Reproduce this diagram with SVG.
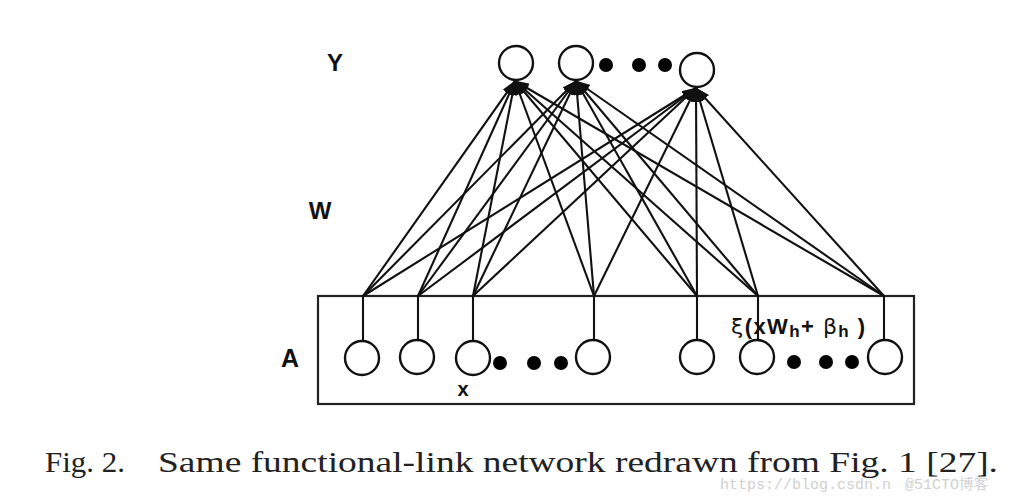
<svg xmlns="http://www.w3.org/2000/svg" width="1011" height="498" viewBox="0 0 1011 498">
<defs>
<marker id="arr" markerUnits="userSpaceOnUse" markerWidth="15" markerHeight="10" refX="14" refY="5" orient="auto">
<path d="M0,0 L15,5 L0,10 Z" fill="#111"/>
</marker>
<style>
.node{fill:#fff;stroke:#111;stroke-width:2.4}
.dot{fill:#000}
.ln{stroke:#111;stroke-width:2.1;fill:none}
.lbl{font-family:"Liberation Sans",Arial,sans-serif;font-weight:bold;fill:#111}
.cap{fill:#222;font-size:30px}
.wm{font-family:"Liberation Mono",monospace;fill:#d0d0d0;font-size:15px}
</style>
</defs>
<rect width="1011" height="498" fill="#fff"/>

<g id="box-A">
<rect x="318" y="296" width="596" height="108" fill="none" stroke="#222" stroke-width="2.2"/>
</g>

<g id="connectors">
<line class="ln" x1="363" y1="296" x2="363" y2="341"/>
<line class="ln" x1="418" y1="296" x2="418" y2="341"/>
<line class="ln" x1="473" y1="296" x2="473" y2="341"/>
<line class="ln" x1="594" y1="296" x2="594" y2="341"/>
<line class="ln" x1="697" y1="296" x2="697" y2="341"/>
<line class="ln" x1="758" y1="296" x2="758" y2="341"/>
<line class="ln" x1="884" y1="296" x2="884" y2="341"/>
<g marker-end="url(#arr)">
<line class="ln" x1="363" y1="296" x2="515" y2="81"/>
<line class="ln" x1="418" y1="296" x2="515" y2="81"/>
<line class="ln" x1="473" y1="296" x2="515" y2="81"/>
<line class="ln" x1="594" y1="296" x2="515" y2="81"/>
<line class="ln" x1="697" y1="296" x2="515" y2="81"/>
<line class="ln" x1="758" y1="296" x2="515" y2="81"/>
<line class="ln" x1="884" y1="296" x2="515" y2="81"/>
<line class="ln" x1="363" y1="296" x2="576" y2="81"/>
<line class="ln" x1="418" y1="296" x2="576" y2="81"/>
<line class="ln" x1="473" y1="296" x2="576" y2="81"/>
<line class="ln" x1="594" y1="296" x2="576" y2="81"/>
<line class="ln" x1="697" y1="296" x2="576" y2="81"/>
<line class="ln" x1="758" y1="296" x2="576" y2="81"/>
<line class="ln" x1="884" y1="296" x2="576" y2="81"/>
<line class="ln" x1="363" y1="296" x2="696" y2="88"/>
<line class="ln" x1="418" y1="296" x2="696" y2="88"/>
<line class="ln" x1="473" y1="296" x2="696" y2="88"/>
<line class="ln" x1="594" y1="296" x2="696" y2="88"/>
<line class="ln" x1="697" y1="296" x2="696" y2="88"/>
<line class="ln" x1="758" y1="296" x2="696" y2="88"/>
<line class="ln" x1="884" y1="296" x2="696" y2="88"/>
</g>
</g>

<g id="Y-nodes">
<circle class="node" cx="516" cy="63" r="17"/>
<circle class="node" cx="576" cy="63" r="17"/>
<circle class="dot" cx="606" cy="65" r="7"/>
<circle class="dot" cx="639" cy="65" r="7"/>
<circle class="dot" cx="665" cy="65" r="7"/>
<circle class="node" cx="697" cy="70" r="17"/>
</g>

<g id="A-nodes">
<circle class="node" cx="362" cy="358" r="17"/>
<circle class="node" cx="417" cy="357" r="17"/>
<circle class="node" cx="473" cy="358" r="17"/>
<circle class="dot" cx="500" cy="363" r="7"/>
<circle class="dot" cx="534" cy="363" r="7"/>
<circle class="dot" cx="561" cy="363" r="7"/>
<circle class="node" cx="593" cy="357" r="17"/>
<circle class="node" cx="697" cy="357" r="17"/>
<circle class="node" cx="757" cy="357" r="17"/>
<circle class="dot" cx="794" cy="362" r="7"/>
<circle class="dot" cx="826" cy="362" r="7"/>
<circle class="dot" cx="852" cy="362" r="7"/>
<circle class="node" cx="885" cy="357" r="17"/>
</g>

<g id="labels">
<text class="lbl" x="335" y="71" font-size="24" text-anchor="middle">Y</text>
<text class="lbl" x="320" y="219" font-size="24" text-anchor="middle">W</text>
<text class="lbl" x="290" y="367" font-size="25" text-anchor="middle">A</text>
<text class="lbl" x="463" y="396" font-size="20" text-anchor="middle">x</text>
<text class="lbl" x="731" y="334" font-size="22" textLength="134"><tspan font-weight="normal" font-family="'DejaVu Sans',sans-serif">ξ</tspan>(xW<tspan font-size="17" dy="3">h</tspan><tspan dy="-3">+ </tspan><tspan font-weight="normal" font-family="'DejaVu Sans',sans-serif">β</tspan><tspan font-size="17" dy="3">h</tspan><tspan dy="-3">  )</tspan></text>
</g>

<g id="caption">
<text class="cap" font-family="Liberation Serif, serif" x="45" y="472" textLength="80" lengthAdjust="spacingAndGlyphs">Fig. 2.</text>
<text class="cap" font-family="Liberation Serif, serif" x="158" y="472" textLength="840" lengthAdjust="spacingAndGlyphs">Same functional-link network redrawn from Fig. 1 [27].</text>
<text class="wm" x="720" y="489">https://blog.csdn.n</text>
<text class="wm" x="905" y="489" font-family="'Liberation Sans','Noto Sans CJK SC',sans-serif">@51CTO博客</text>
</g>
</svg>
